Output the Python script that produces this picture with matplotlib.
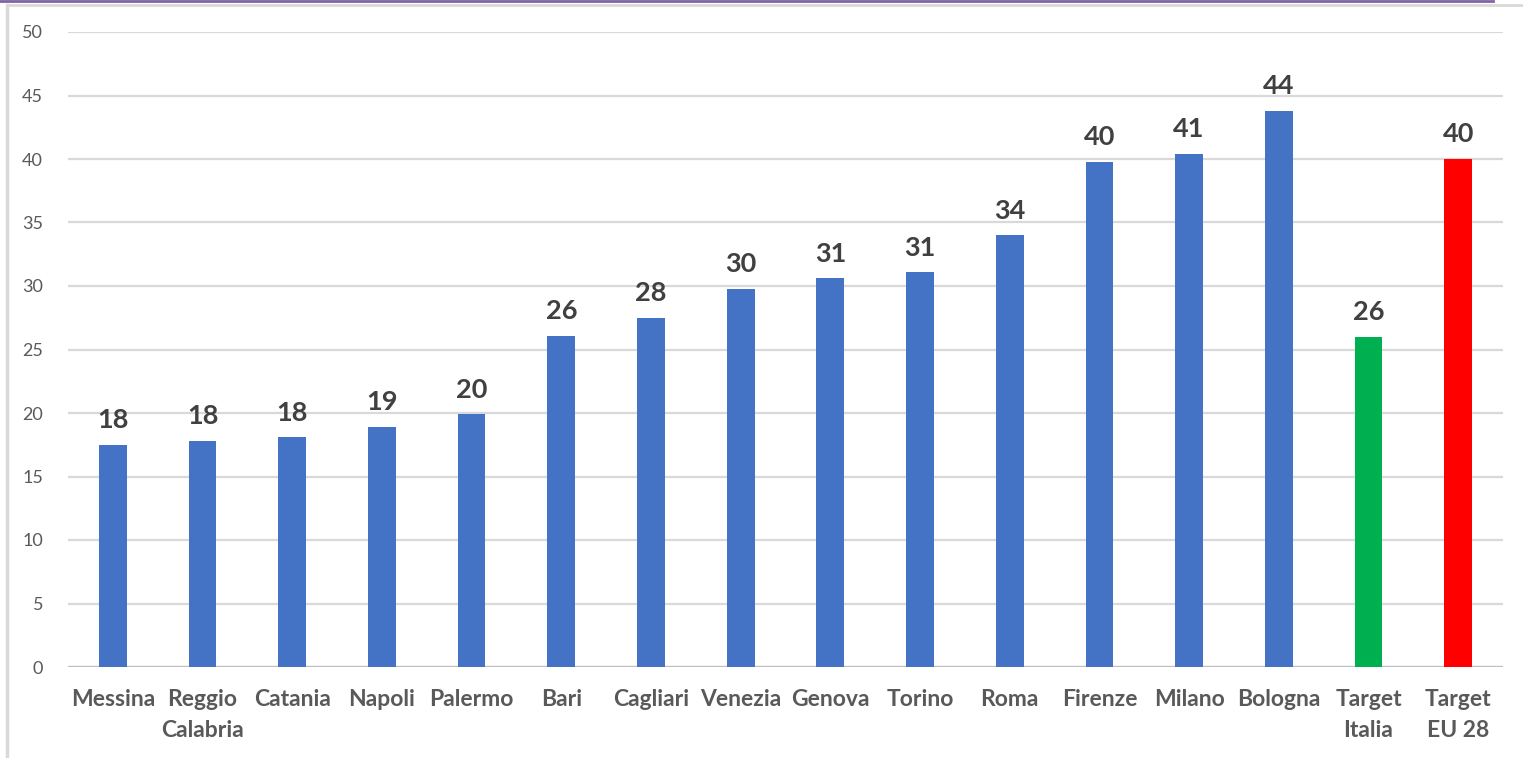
import matplotlib.pyplot as plt
import numpy as np
from matplotlib.lines import Line2D

cities = ["Messina", "Reggio\nCalabria", "Catania", "Napoli", "Palermo", "Bari",
          "Cagliari", "Venezia", "Genova", "Torino", "Roma", "Firenze", "Milano",
          "Bologna", "Target\nItalia", "Target\nEU 28"]
values = [17.5, 17.8, 18.1, 18.9, 19.9, 26.1, 27.5, 29.8, 30.6, 31.1, 34.0,
          39.8, 40.4, 43.8, 26.0, 40.0]
labels = ["18", "18", "18", "19", "20", "26", "28", "30", "31", "31", "34",
          "40", "41", "44", "26", "40"]
colors = ["#4472C4"] * 14 + ["#00B050", "#FF0000"]
yticks = [0, 5, 10, 15, 20, 25, 30, 35, 40, 45, 50]

plt.rcParams["font.family"] = ["Lato", "DejaVu Sans"]

fig = plt.figure(figsize=(15.23, 7.58), dpi=100)
# window frame
tf = fig.transFigure
fig.lines.append(Line2D([7 / 1523, 7 / 1523], [0, 1 - 5 / 758], transform=tf,
                        color="#D9D9D9", linewidth=2.5))
fig.lines.append(Line2D([7 / 1523, 1], [1 - 5 / 758, 1 - 5 / 758], transform=tf,
                        color="#D9D9D9", linewidth=2))
fig.lines.append(Line2D([0, 1493 / 1523], [1 - 1 / 758, 1 - 1 / 758], transform=tf,
                        color="#8064A2", linewidth=2))

ax = fig.add_axes([68 / 1523, 1 - 667 / 758, 1435 / 1523, 635 / 758])
ax.patch.set_alpha(0)
x = np.arange(len(cities))
bars = ax.bar(x, values, width=0.31, color=colors, zorder=3)
ax.bar_label(bars, labels=labels, padding=9, fontsize=19.5, fontweight="bold", color="#404040")

ax.set_xlim(-0.5, len(cities) - 0.5)
ax.set_ylim(0, 50)
ax.set_yticks(yticks)
ax.yaxis.grid(True, color="#D9D9D9", linewidth=1.6, zorder=0)
ax.axhline(0, color="#BFBFBF", linewidth=1.6, zorder=2)
for s in ax.spines.values():
    s.set_visible(False)
ax.tick_params(axis="y", length=0, pad=18, labelsize=13, labelcolor="#595959")
ax.tick_params(axis="x", length=0, pad=16)
ax.set_xticks(x)
ax.set_xticklabels(cities, fontsize=16.5, fontweight="bold", color="#595959", linespacing=1.55)

fig.savefig("out.png", dpi=100)
